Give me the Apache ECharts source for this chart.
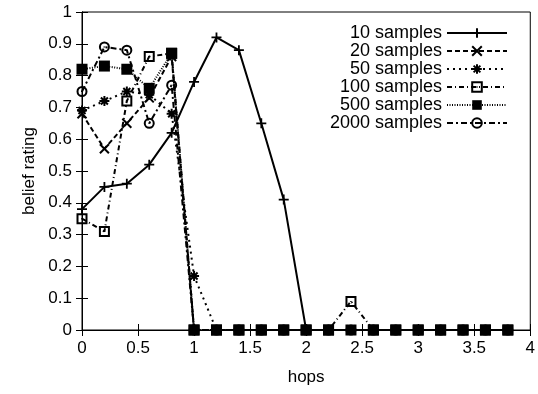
<!DOCTYPE html>
<html>
<head>
<meta charset="utf-8">
<script src="https://cdn.jsdelivr.net/npm/echarts@6/dist/echarts.min.js"></script>
<style>
  html, body { margin: 0; padding: 0; background: #fff; }
  #chart { width: 538px; height: 394px; }
</style>
</head>
<body>
<div id="chart"></div>
<script>
// hop distances sampled every 0.2
const hops = [0, 0.2, 0.4, 0.6, 0.8, 1.0, 1.2, 1.4, 1.6, 1.8, 2.0, 2.2, 2.4, 2.6, 2.8, 3.0, 3.2, 3.4, 3.6, 3.8];

const seriesNames = ['10 samples', '20 samples', '50 samples', '100 samples', '500 samples', '2000 samples'];

// belief rating per hop for each sample count
const s10   = [0.38, 0.45, 0.46, 0.52, 0.62, 0.78, 0.92, 0.88, 0.65, 0.41, 0, 0, 0, 0, 0, 0, 0, 0, 0, 0];
const s20   = [0.68, 0.57, 0.65, 0.73, 0.86, 0, 0, 0, 0, 0, 0, 0, 0, 0, 0, 0, 0, 0, 0, 0];
const s50   = [0.69, 0.72, 0.75, 0.74, 0.68, 0.17, 0, 0, 0, 0, 0, 0, 0, 0, 0, 0, 0, 0, 0, 0];
const s100  = [0.35, 0.31, 0.72, 0.86, 0.87, 0, 0, 0, 0, 0, 0, 0, 0.09, 0, 0, 0, 0, 0, 0, 0];
const s500  = [0.82, 0.83, 0.82, 0.76, 0.87, 0, 0, 0, 0, 0, 0, 0, 0, 0, 0, 0, 0, 0, 0, 0];
const s2000 = [0.75, 0.89, 0.88, 0.65, 0.77, 0, 0, 0, 0, 0, 0, 0, 0, 0, 0, 0, 0, 0, 0, 0];

const allValues = [s10, s20, s50, s100, s500, s2000];

// marker outlines (stroked only, like plotting-tool point types) and dash patterns
const PLUS   = 'path://M0,-5L0,5M-5,0L5,0';
const CROSS  = 'path://M-4,-4L4,4M-4,4L4,-4';
const STAR   = 'path://M0,-5L0,5M-5,0L5,0M-3.5,-3.5L3.5,3.5M-3.5,3.5L3.5,-3.5';
const OSQ    = 'path://M-4,-4L4,-4L4,4L-4,4Z M0,-0.4L0,0.4';
const OCIRC  = 'path://M4.5,0A4.5,4.5,0,1,1,-4.5,0A4.5,4.5,0,1,1,4.5,0Z M0,-0.4L0,0.4';
const styles = [
  { symbol: PLUS,   size: 10, dash: 'solid',       fill: 'transparent', border: 1.8 },
  { symbol: CROSS,  size: 9,  dash: [5, 3],        fill: 'transparent', border: 2 },
  { symbol: STAR,   size: 10, dash: [2, 4],        fill: 'transparent', border: 2 },
  { symbol: OSQ,    size: 9,  dash: [5, 3, 1, 3],  fill: 'transparent', border: 2 },
  { symbol: 'rect', size: 11, dash: [1, 1.5],      fill: '#000',        border: 0 },
  { symbol: OCIRC,  size: 9,  dash: [6, 3, 2, 3],  fill: 'transparent', border: 2 }
];

const font = 'Liberation Sans, Arial, sans-serif';

const series = seriesNames.map((name, i) => ({
  name: name,
  type: 'line',
  data: hops.map((h, j) => [h, allValues[i][j]]),
  symbol: styles[i].symbol,
  symbolSize: styles[i].size,
  showAllSymbol: true,
  lineStyle: { color: '#000', width: 2, type: styles[i].dash },
  itemStyle: { color: styles[i].fill, borderColor: '#000', borderWidth: styles[i].border },
  emphasis: { disabled: true },
  animation: false
}));

const chart = echarts.init(document.getElementById('chart'), null, { renderer: 'canvas' });
chart.setOption({
  backgroundColor: '#fff',
  animation: false,
  grid: { left: 82, right: 3, top: 12, bottom: 64, show: true, borderColor: '#000', borderWidth: 1 },
  legend: {
    orient: 'vertical',
    right: 25,
    top: 19,
    align: 'right',
    itemWidth: 60,
    itemHeight: 12,
    itemGap: 0,
    textStyle: { fontFamily: font, fontSize: 18, lineHeight: 18, color: '#000', padding: [0, 0, 0, 0] },
    data: seriesNames
  },
  xAxis: [{
    type: 'value', min: 0, max: 4, interval: 0.5,
    name: 'hops', nameLocation: 'middle', nameGap: 39,
    nameTextStyle: { fontFamily: font, fontSize: 17, color: '#000' },
    axisLine: { show: true, lineStyle: { color: '#000' } },
    axisTick: { inside: true, length: 6, lineStyle: { color: '#000' } },
    axisLabel: { fontFamily: font, fontSize: 17, color: '#000', margin: 10 },
    splitLine: { show: false }
  }, {
    type: 'value', min: 0, max: 4, interval: 0.5, position: 'top',
    axisLine: { show: true, lineStyle: { color: '#000' } },
    axisTick: { inside: true, length: 6, lineStyle: { color: '#000' } },
    axisLabel: { show: false },
    splitLine: { show: false }
  }],
  yAxis: [{
    type: 'value', min: 0, max: 1, interval: 0.1,
    name: 'belief rating', nameLocation: 'middle', nameGap: 44,
    nameTextStyle: { fontFamily: font, fontSize: 17, color: '#000' },
    axisLine: { show: true, lineStyle: { color: '#000' } },
    axisTick: { inside: true, length: 6, lineStyle: { color: '#000' } },
    axisLabel: { fontFamily: font, fontSize: 17, color: '#000', margin: 10 },
    splitLine: { show: false }
  }, {
    type: 'value', min: 0, max: 1, interval: 0.1, position: 'right',
    axisLine: { show: true, lineStyle: { color: '#000' } },
    axisTick: { inside: true, length: 6, lineStyle: { color: '#000' } },
    axisLabel: { show: false },
    splitLine: { show: false }
  }],
  series: series
});
</script>
</body>
</html>
